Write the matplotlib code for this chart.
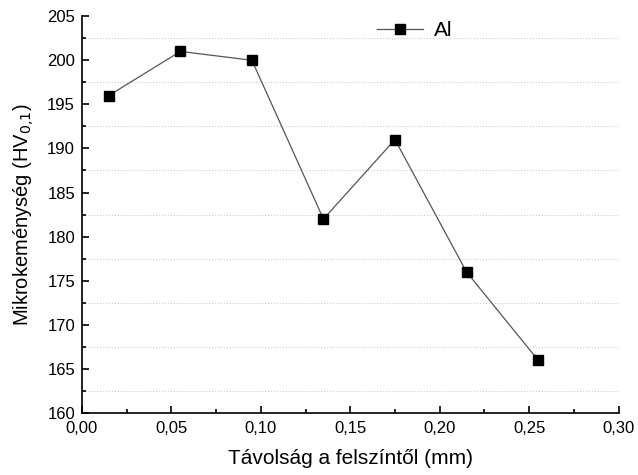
import matplotlib
matplotlib.use("Agg")
import matplotlib.pyplot as plt
from matplotlib.ticker import MultipleLocator, FuncFormatter

plt.rcParams['font.family'] = ['Liberation Sans', 'DejaVu Sans']

# data
distance = [0.015, 0.055, 0.095, 0.135, 0.175, 0.215, 0.255]
hardness = [196, 201, 200, 182, 191, 176, 166]

fig = plt.figure(figsize=(6.38, 4.75), dpi=100)
ax = fig.add_axes([0.1285, 0.1305, 0.841, 0.8355])

ax.plot(distance, hardness, color='#555555', lw=0.9, marker='s', ms=6.5,
        mfc='black', mec='black', label='Al')

ax.set_xlim(0, 0.30)
ax.set_ylim(160, 205)
ax.xaxis.set_major_locator(MultipleLocator(0.05))
ax.xaxis.set_minor_locator(MultipleLocator(0.025))
ax.yaxis.set_major_locator(MultipleLocator(5))
ax.yaxis.set_minor_locator(MultipleLocator(2.5))
ax.xaxis.set_major_formatter(FuncFormatter(lambda v, p: f'{v:.2f}'.replace('.', ',')))

ax.grid(which='minor', axis='y', linestyle=':', color='#cccccc', lw=0.8)
ax.spines['top'].set_visible(False)
ax.spines['right'].set_visible(False)
ax.spines['left'].set_linewidth(1.2)
ax.spines['bottom'].set_linewidth(1.2)
ax.tick_params(which='major', direction='in', length=5, width=1.2, labelsize=12)
ax.tick_params(which='minor', direction='in', length=3, width=1.2)
ax.tick_params(axis='x', which='major', pad=6)
ax.tick_params(axis='y', which='major', pad=5)

ax.set_xlabel('Távolság a felszíntől (mm)', fontsize=15, labelpad=9)
ax.set_ylabel('Mikrokeménység (HV$_{0{,}1}$)', fontsize=14.5, labelpad=8)

ax.legend(loc='upper center', bbox_to_anchor=(0.62, 1.035), frameon=False,
          fontsize=15, handlelength=2.2, handletextpad=0.5)

fig.savefig('out.png', dpi=100)
